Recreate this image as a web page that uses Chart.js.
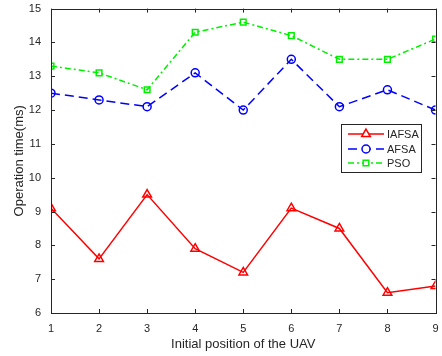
<!DOCTYPE html>
<html lang="en">
<head>
  <meta charset="utf-8">
  <title>Operation time</title>
  <script src="https://cdn.jsdelivr.net/npm/chart.js@4.4.1/dist/chart.umd.min.js"></script>
  <style>
    html, body { margin: 0; padding: 0; background: #fff; }
    canvas { display: block; }
  </style>
</head>
<body>
  <canvas id="chart" width="442" height="356"></canvas>
  <script>
    var positions = [1, 2, 3, 4, 5, 6, 7, 8, 9];
    var iafsa = [9.1, 7.6, 9.5, 7.9, 7.2, 9.1, 8.5, 6.6, 6.8];
    var afsa = [12.5, 12.3, 12.1, 13.1, 12.0, 13.5, 12.1, 12.6, 12.0];
    var pso = [13.3, 13.1, 12.6, 14.3, 14.6, 14.2, 13.5, 13.5, 14.1];
    var seriesNames = ['IAFSA', 'AFSA', 'PSO'];

    var FONT = '"Liberation Sans", Arial, Helvetica, sans-serif';

    function pts(vals) {
      return vals.map(function (v, i) { return { x: positions[i], y: v }; });
    }

    // frame with inward ticks on all four sides
    var framePlugin = {
      id: 'frame',
      afterDraw: function (chart) {
        var ctx = chart.ctx, a = chart.chartArea;
        var xs = chart.scales.x, ys = chart.scales.y;
        ctx.save();
        ctx.strokeStyle = '#262626';
        ctx.lineWidth = 1;
        ctx.strokeRect(Math.round(a.left) + 0.5, Math.round(a.top) + 0.5,
          Math.round(a.right - a.left), Math.round(a.bottom - a.top));
        ctx.beginPath();
        xs.ticks.forEach(function (t) {
          var px = Math.round(xs.getPixelForValue(t.value)) + 0.5;
          ctx.moveTo(px, a.bottom); ctx.lineTo(px, a.bottom - 4);
          ctx.moveTo(px, a.top); ctx.lineTo(px, a.top + 4);
        });
        ys.ticks.forEach(function (t) {
          var py = Math.round(ys.getPixelForValue(t.value)) + 0.5;
          ctx.moveTo(a.left, py); ctx.lineTo(a.left + 4, py);
          ctx.moveTo(a.right, py); ctx.lineTo(a.right - 4, py);
        });
        ctx.stroke();
        ctx.restore();
      }
    };

    // boxed legend inside the plot
    var legendPlugin = {
      id: 'boxLegend',
      afterDraw: function (chart) {
        var ctx = chart.ctx;
        var bx = 341.5, by = 124.5, bw = 80, bh = 48;
        ctx.save();
        ctx.fillStyle = '#fff';
        ctx.fillRect(bx, by, bw, bh);
        ctx.strokeStyle = '#262626';
        ctx.lineWidth = 1;
        ctx.strokeRect(bx, by, bw, bh);
        var rows = [134, 149, 163];
        chart.data.datasets.forEach(function (ds, i) {
          var y = rows[i];
          ctx.strokeStyle = ds.borderColor;
          ctx.lineWidth = ds.borderWidth;
          ctx.setLineDash(ds.borderDash || []);
          ctx.beginPath();
          ctx.moveTo(348, y); ctx.lineTo(384, y);
          ctx.stroke();
          ctx.setLineDash([]);
          ctx.fillStyle = '#fff';
          Chart.helpers.drawPoint(ctx, {
            pointStyle: ds.pointStyle, radius: ds.pointRadius, rotation: 0,
            borderWidth: ds.pointBorderWidth
          }, 366, y);
          ctx.fillStyle = '#262626';
          ctx.font = '11px ' + FONT;
          ctx.textBaseline = 'middle';
          ctx.textAlign = 'left';
          ctx.fillText(seriesNames[i], 387, y + 1);
        });
        ctx.restore();
      }
    };

    new Chart(document.getElementById('chart'), {
      type: 'line',
      data: {
        datasets: [{
          label: seriesNames[0],
          data: pts(iafsa),
          borderColor: '#ff0000',
          backgroundColor: 'rgba(0,0,0,0)',
          borderWidth: 1.5,
          pointStyle: 'triangle',
          pointRadius: 5,
          pointBorderWidth: 1.5,
          pointBorderColor: '#ff0000',
          pointBackgroundColor: 'rgba(0,0,0,0)'
        }, {
          label: seriesNames[1],
          data: pts(afsa),
          borderColor: '#0000ff',
          backgroundColor: 'rgba(0,0,0,0)',
          borderWidth: 1.5,
          borderDash: [9, 5],
          pointStyle: 'circle',
          pointRadius: 4,
          pointBorderWidth: 1.5,
          pointBorderColor: '#0000ff',
          pointBackgroundColor: 'rgba(0,0,0,0)'
        }, {
          label: seriesNames[2],
          data: pts(pso),
          borderColor: '#00f000',
          backgroundColor: 'rgba(0,0,0,0)',
          borderWidth: 1.5,
          borderDash: [6, 3, 2, 3],
          pointStyle: 'rect',
          pointRadius: 4,
          pointBorderWidth: 1.5,
          pointBorderColor: '#00f000',
          pointBackgroundColor: 'rgba(0,0,0,0)'
        }]
      },
      options: {
        responsive: false,
        animation: false,
        layout: { padding: { top: 8, right: 5, left: 0, bottom: 0 } },
        plugins: { legend: { display: false }, tooltip: { enabled: false } },
        scales: {
          x: {
            type: 'linear',
            min: 1, max: 9,
            grid: { display: false },
            border: { display: false },
            ticks: { stepSize: 1, color: '#262626', font: { family: FONT, size: 11 }, padding: 1, maxRotation: 0 },
            title: { display: true, text: 'Initial position of the UAV', color: '#262626', font: { family: FONT, size: 13 }, padding: { top: 1 } },
            afterFit: function (s) { s.height = 43; }
          },
          y: {
            min: 6, max: 15,
            grid: { display: false },
            border: { display: false },
            ticks: { stepSize: 1, color: '#262626', font: { family: FONT, size: 11 }, padding: 2 },
            title: { display: true, text: 'Operation time(ms)', color: '#262626', font: { family: FONT, size: 13 }, padding: { top: 12, bottom: 0 } },
            afterFit: function (s) { s.width = 51; }
          }
        }
      },
      plugins: [framePlugin, legendPlugin]
    });
  </script>
</body>
</html>
